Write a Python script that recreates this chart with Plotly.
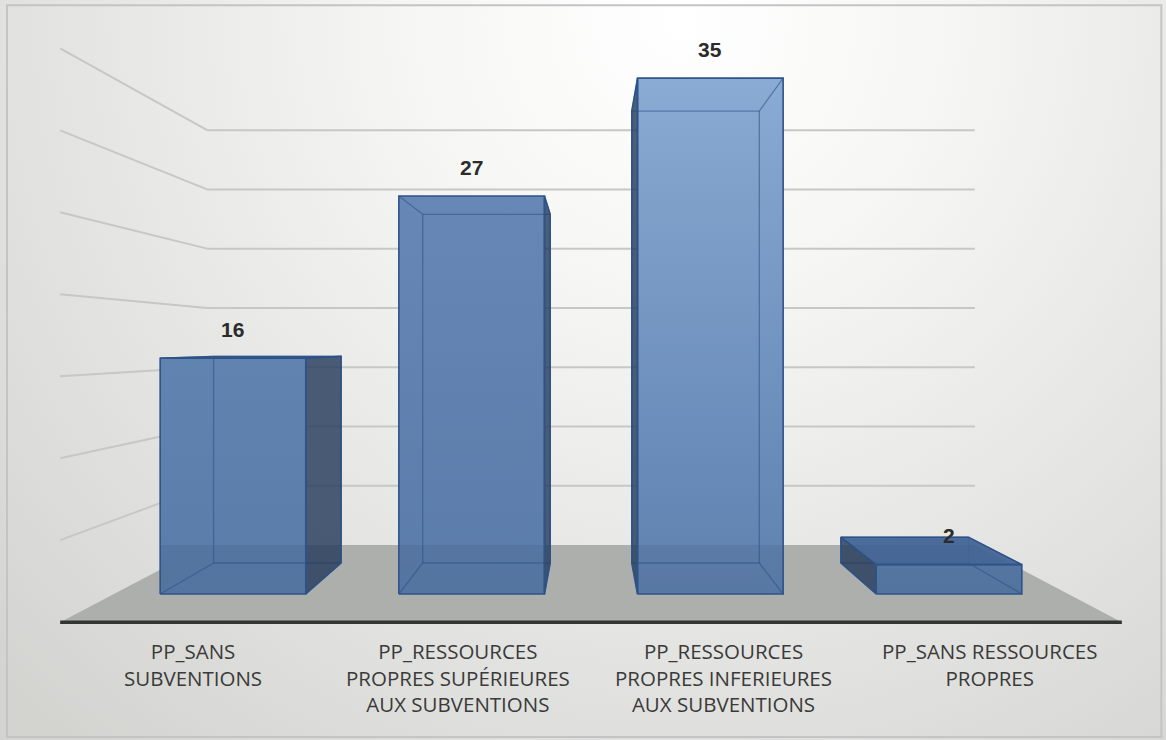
import base64
import plotly.graph_objects as go

# ---------------- data ----------------
categories = [
    "PP_SANS<br>SUBVENTIONS",
    "PP_RESSOURCES<br>PROPRES SUPÉRIEURES<br>AUX SUBVENTIONS",
    "PP_RESSOURCES<br>PROPRES INFERIEURES<br>AUX SUBVENTIONS",
    "PP_SANS RESSOURCES<br>PROPRES",
]
values = [16, 27, 35, 2]
grid_values = [5, 10, 15, 20, 25, 30, 35]

# ---------------- styles ----------------
# per-bar front-face shading (fraction of own height -> colour)
front_scales = [
    [[0, "#5a7ca9"], [1, "#6083b0"]],
    [[0, "#5b7dab"], [0.37, "#5f80ad"], [1, "#6788b6"]],
    [[0, "#5e81ad"], [0.28, "#6a8cba"], [0.77, "#7fa0c9"], [1, "#8aabd4"]],
    [[0, "#587ba8"], [1, "#5b7eaa"]],
]
EDGE = "#2d5388"
INNER = "rgba(40,80,135,0.55)"
SIDE_FILL = "rgba(38,58,92,0.82)"
TOP_FILL = "rgba(62,98,148,0.92)"
FLOOR_SHADE = "rgba(0,10,30,0.07)"

# ---------------- perspective model ----------------
VX, VY = 1.5, 17.0          # vanishing point (category units, value units)
S_FLOOR_FRONT = 1.112       # depth scale of floor front edge
S_BAR_FRONT = 1.0
S_BAR_BACK = 0.876
S_WALL = 0.804              # back wall depth scale
HALF_W = 0.305              # half bar width (category units)
X_MIN, X_MAX = -0.5, len(values) - 0.5


def proj(x, y, s):
    return VX + s * (x - VX), VY + s * (y - VY)


def poly(points):
    xs, ys = [], []
    for (x, y, s) in points:
        px, py = proj(x, y, s)
        xs.append(px)
        ys.append(py)
    xs.append(xs[0])
    ys.append(ys[0])
    return xs, ys


fig = go.Figure()

# floor
fx, fy = poly([(X_MIN, 0, S_FLOOR_FRONT), (X_MAX, 0, S_FLOOR_FRONT),
               (X_MAX, 0, S_WALL), (X_MIN, 0, S_WALL)])
fig.add_trace(go.Scatter(x=fx, y=fy, mode="lines", fill="toself",
                         fillcolor="#adafac", line=dict(width=0),
                         hoverinfo="skip", showlegend=False))

# wall grid lines (back wall + left wall)
gx, gy = [], []
for g in grid_values:
    for (a, b) in [((X_MIN, g, S_FLOOR_FRONT), (X_MIN, g, S_WALL)),
                   ((X_MIN, g, S_WALL), (X_MAX, g, S_WALL))]:
        p1 = proj(*a)
        p2 = proj(*b)
        gx += [p1[0], p2[0], None]
        gy += [p1[1], p2[1], None]
fig.add_trace(go.Scatter(x=gx, y=gy, mode="lines",
                         line=dict(color="#c7c8c5", width=2),
                         hoverinfo="skip", showlegend=False))

# floor front line
l1 = proj(X_MIN, 0, S_FLOOR_FRONT)
l2 = proj(X_MAX, 0, S_FLOOR_FRONT)
fig.add_trace(go.Scatter(x=[l1[0], l2[0]], y=[l1[1], l2[1]], mode="lines",
                         line=dict(color="#333533", width=3.5),
                         hoverinfo="skip", showlegend=False))

# height (in front-plane units) of the floor's back edge, seen through the bars
floor_back_y = proj(0, 0, S_WALL)[1]

for i, v in enumerate(values):
    x0, x1 = i - HALF_W, i + HALF_W
    F = {k: (x, y, S_BAR_FRONT) for k, (x, y) in
         dict(bl=(x0, 0), br=(x1, 0), tr=(x1, v), tl=(x0, v)).items()}
    B = {k: (x, y, S_BAR_BACK) for k, (x, y) in
         dict(bl=(x0, 0), br=(x1, 0), tr=(x1, v), tl=(x0, v)).items()}

    # front face fill
    xs, ys = poly([F["bl"], F["br"], F["tr"], F["tl"]])
    fig.add_trace(go.Scatter(x=xs, y=ys, mode="lines", fill="toself",
                             fillgradient=dict(type="vertical", start=0, stop=v,
                                               colorscale=front_scales[i]),
                             line=dict(width=0), hoverinfo="skip", showlegend=False))

    # floor seen through the translucent bar
    fh = min(v, floor_back_y)
    xs, ys = poly([(x0, 0, 1), (x1, 0, 1), (x1, fh, 1), (x0, fh, 1)])
    fig.add_trace(go.Scatter(x=xs, y=ys, mode="lines", fill="toself", fillcolor=FLOOR_SHADE,
                             line=dict(width=0), hoverinfo="skip", showlegend=False))

    # inner (hidden) edges seen through the translucent box
    ix, iy = [], []
    edges = [(B["bl"], B["br"]), (B["br"], B["tr"]), (B["tr"], B["tl"]), (B["tl"], B["bl"]),
             (F["bl"], B["bl"]), (F["br"], B["br"]), (F["tr"], B["tr"]), (F["tl"], B["tl"])]
    for a, b in edges:
        p1, p2 = proj(*a), proj(*b)
        ix += [p1[0], p2[0], None]
        iy += [p1[1], p2[1], None]
    fig.add_trace(go.Scatter(x=ix, y=iy, mode="lines", line=dict(color=INNER, width=1.3),
                             hoverinfo="skip", showlegend=False))

    # visible side faces
    faces = []
    if x1 < VX:
        faces.append(([F["br"], B["br"], B["tr"], F["tr"]], SIDE_FILL))
    if x0 > VX:
        faces.append(([F["bl"], B["bl"], B["tl"], F["tl"]], SIDE_FILL))
    if v < VY:
        faces.append(([F["tl"], F["tr"], B["tr"], B["tl"]], TOP_FILL))
    for pts, col in faces:
        xs, ys = poly(pts)
        fig.add_trace(go.Scatter(x=xs, y=ys, mode="lines", fill="toself", fillcolor=col,
                                 line=dict(color=EDGE, width=1.5),
                                 hoverinfo="skip", showlegend=False))

    # front face outline
    xs, ys = poly([F["bl"], F["br"], F["tr"], F["tl"]])
    fig.add_trace(go.Scatter(x=xs, y=ys, mode="lines", line=dict(color=EDGE, width=1.6),
                             hoverinfo="skip", showlegend=False))

    # value label
    fig.add_annotation(x=i, y=v, text="<b>%d</b>" % v, showarrow=False, yshift=29,
                       yanchor="middle", xanchor="center",
                       font=dict(family="Liberation Sans, Arial", size=21, color="#2b2b2b"))

    # category label, centred under the floor's front edge
    lx = proj(i, 0, S_FLOOR_FRONT)[0]
    fig.add_annotation(x=lx, y=-2.8, text=categories[i], showarrow=False,
                       yanchor="top", xanchor="center", align="center",
                       font=dict(family="Open Sans", size=20.5, color="#3a3a3a"))

# background gradient
svg = ('<svg xmlns="http://www.w3.org/2000/svg" width="1166" height="740" '
       'viewBox="0 0 1166 740" preserveAspectRatio="none">'
       '<defs><radialGradient id="g" cx="680" cy="20" r="950" gradientUnits="userSpaceOnUse">'
       '<stop offset="0" stop-color="#ffffff"/><stop offset="0.28" stop-color="#f6f6f5"/>'
       '<stop offset="1" stop-color="#d3d4d0"/></radialGradient></defs>'
       '<rect width="1166" height="740" fill="url(#g)"/></svg>')
src = "data:image/svg+xml;base64," + base64.b64encode(svg.encode()).decode()

fig.update_layout(
    width=1166, height=740,
    margin=dict(l=0, r=0, t=0, b=0),
    paper_bgcolor="#ffffff", plot_bgcolor="rgba(0,0,0,0)",
    xaxis=dict(range=[-0.976, 3.909], visible=False, fixedrange=True),
    yaxis=dict(range=[-9.9, 40.3], visible=False, fixedrange=True),
    images=[dict(source=src, xref="paper", yref="paper", x=0, y=1, sizex=1, sizey=1,
                 sizing="stretch", xanchor="left", yanchor="top", layer="below")],
    shapes=[dict(type="rect", xref="paper", yref="paper", x0=0.006, x1=0.996,
                 y0=0.004, y1=0.993, line=dict(color="#c4c4c4", width=2))],
    showlegend=False,
)

fig.write_html("out.html")
